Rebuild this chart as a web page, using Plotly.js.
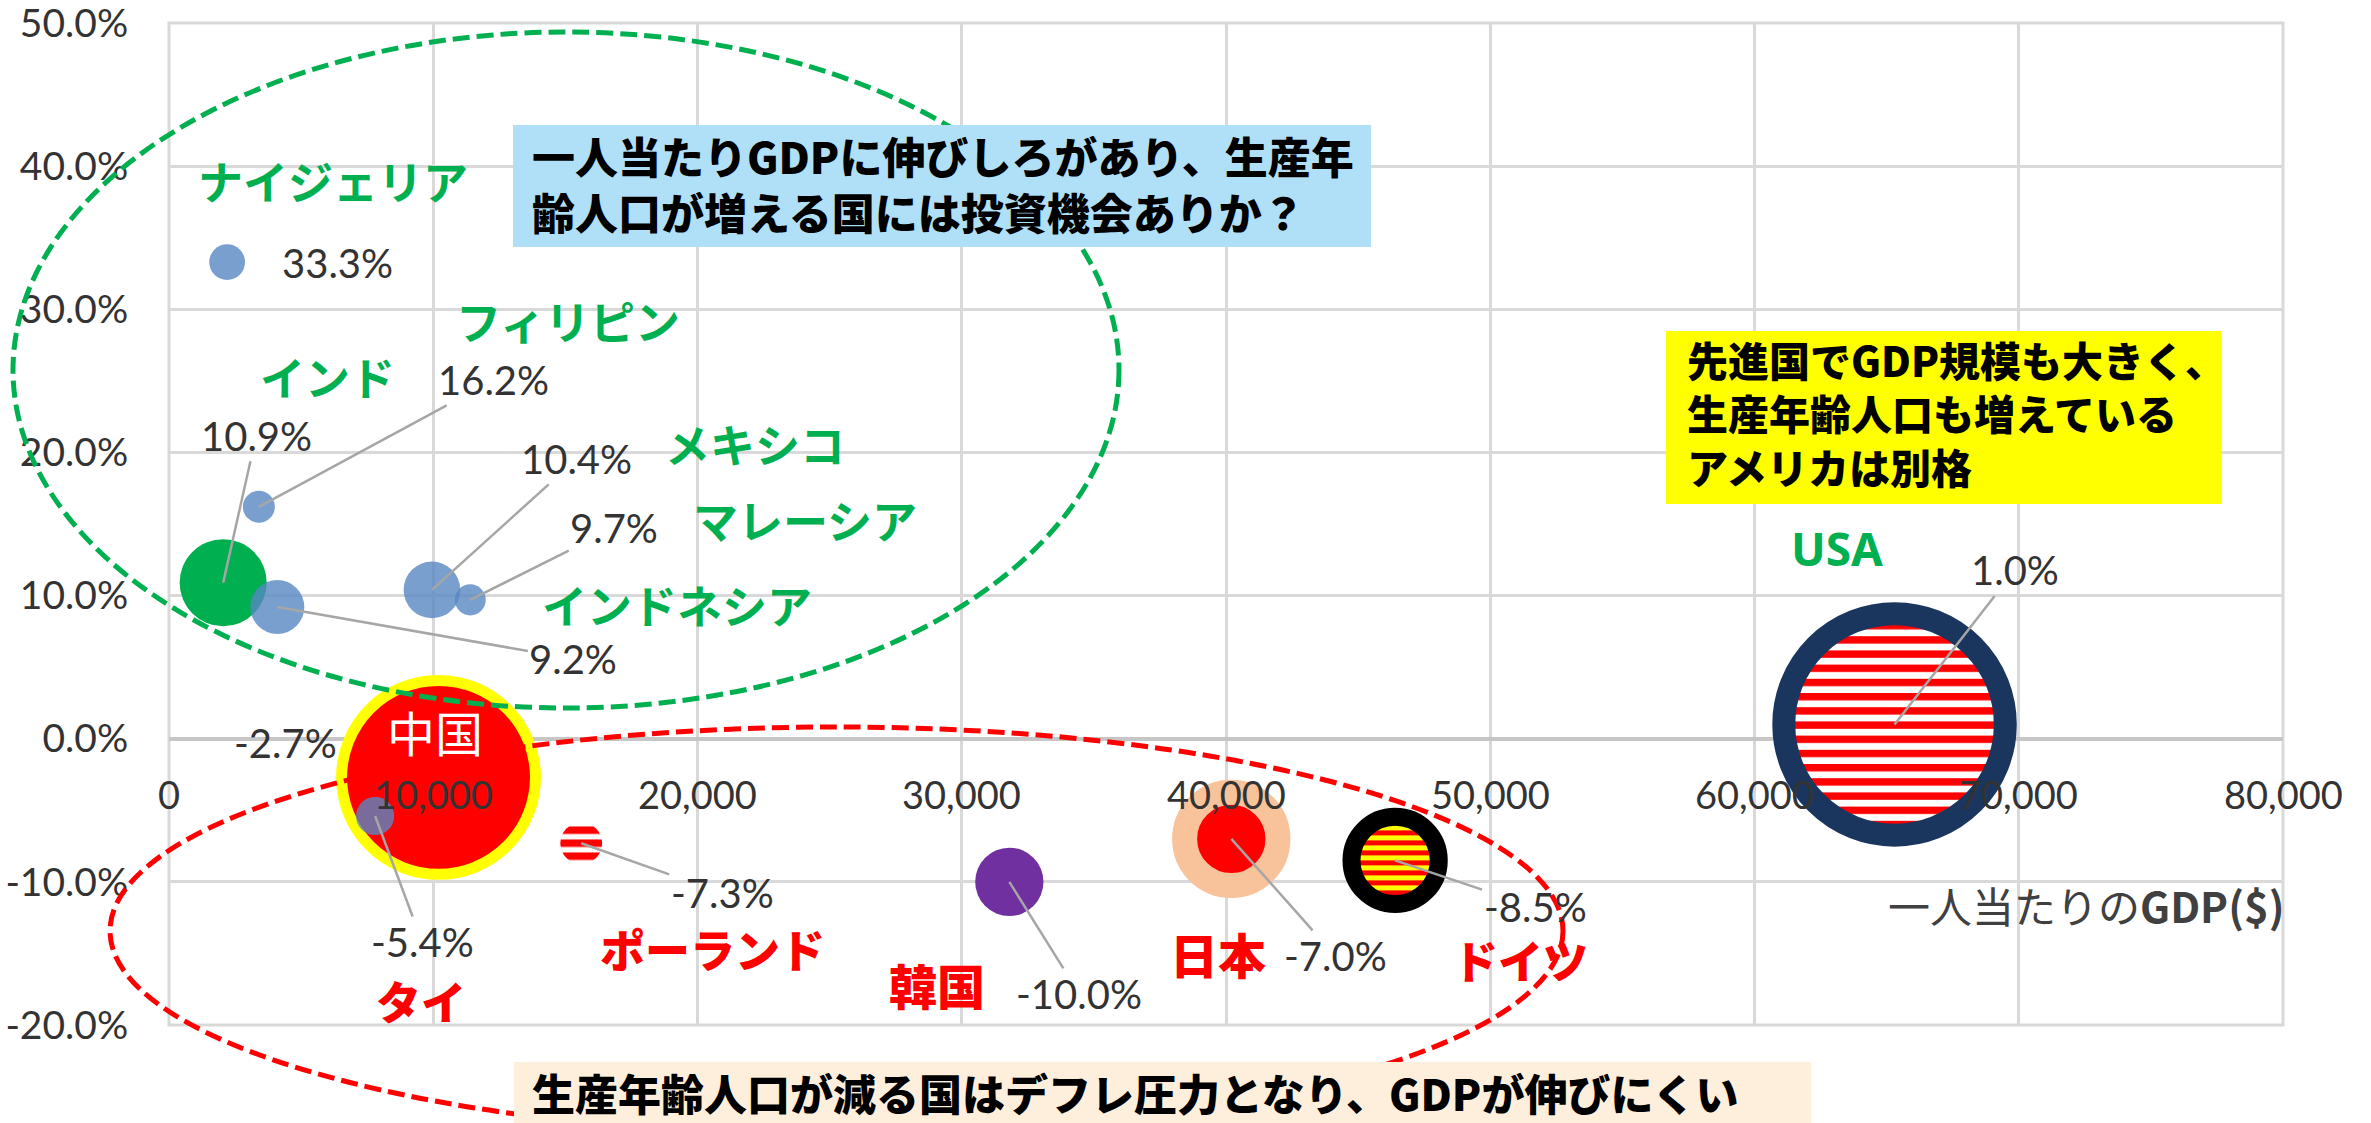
<!DOCTYPE html>
<html>
<head>
<meta charset="utf-8">
<script src="https://cdn.plot.ly/plotly-3.0.1.min.js"></script>
<style>
html,body{margin:0;padding:0;background:#ffffff;}
#chart{width:2371px;height:1123px;}
</style>
</head>
<body>
<div id="chart"></div>
<script>
// ---------------- data ----------------
const countries = ['ナイジェリア','フィリピン','インド','インドネシア','メキシコ','マレーシア','中国','タイ','ポーランド','韓国','日本','ドイツ','USA'];
const gdpPerCapita = [2200, 3400, 2050, 4100, 9950, 11400, 10200, 7800, 15600, 31800, 40200, 46400, 65300];
const workingAgePopChangePct = [33.3, 16.2, 10.9, 9.2, 10.4, 9.7, -2.7, -5.4, -7.3, -10.0, -7.0, -8.5, 1.0];
const gdpTrillionUSD = [0.44, 0.35, 2.6, 1.0, 1.1, 0.33, 14.4, 0.5, 0.6, 1.6, 4.8, 3.8, 20.5];

const xTickVals = [0, 10000, 20000, 30000, 40000, 50000, 60000, 70000, 80000];
const xTickText = ['0', '10,000', '20,000', '30,000', '40,000', '50,000', '60,000', '70,000', '80,000'];
const yTickVals = [-20, -10, 0, 10, 20, 30, 40, 50];
const yTickText = ['-20.0%', '-10.0%', '0.0%', '10.0%', '20.0%', '30.0%', '40.0%', '50.0%'];

const xAxisTitle = '一人当たりの<b>GDP($)</b>';
const noteGrowth = ['一人当たりGDPに伸びしろがあり、生産年', '齢人口が増える国には投資機会ありか？'];
const noteUSA = ['先進国でGDP規模も大きく、', '生産年齢人口も増えている', 'アメリカは別格'];
const noteDecline = ['生産年齢人口が減る国はデフレ圧力となり、GDPが伸びにくい'];

// ---------------- styles / layout constants ----------------
const W = 2371, H = 1123, ML = 169, MR = 88, MT = 23, MB = 98;
const PW = W - ML - MR, PH = H - MT - MB;
const px = v => (v - ML) / PW;
const py = v => (H - MB - v) / PH;

const BLUE = 'rgba(88,135,195,0.8)';
const GREEN = '#00B050';
const RED = '#FF0000';
const NUMFONT = 'Lato, "Noto Sans", sans-serif';
const JPFONT = '"Noto Sans CJK JP", "Noto Sans", sans-serif';
const K = 54; // px per sqrt(trillion)
const NONE = 'rgba(0,0,0,0)';
const TICKCOLOR = '#333333';

// per-country visual style: fill, ring color, ring width, pattern id, label colour
const style = [
  {fill: BLUE, ring: NONE, rw: 0, pat: null, lc: GREEN},
  {fill: BLUE, ring: NONE, rw: 0, pat: null, lc: GREEN},
  {fill: GREEN, ring: NONE, rw: 0, pat: null, lc: GREEN},
  {fill: BLUE, ring: NONE, rw: 0, pat: null, lc: GREEN},
  {fill: BLUE, ring: NONE, rw: 0, pat: null, lc: GREEN},
  {fill: BLUE, ring: NONE, rw: 0, pat: null, lc: GREEN},
  {fill: RED, ring: '#FFFF00', rw: 11, pat: null, lc: '#FFFFFF'},
  {fill: BLUE, ring: NONE, rw: 0, pat: null, lc: RED},
  {fill: RED, ring: NONE, rw: 0, pat: 'patPL', lc: RED},
  {fill: '#7030A0', ring: NONE, rw: 0, pat: null, lc: RED},
  {fill: RED, ring: '#F8C29B', rw: 25, pat: null, lc: RED},
  {fill: RED, ring: '#000000', rw: 18, pat: 'patDE', lc: RED},
  {fill: RED, ring: '#1B365E', rw: 23, pat: 'patUS', lc: GREEN}
];
// name label offsets [dx, dy] in px from bubble centre (dy downward)
const nameOff = [[106,-82],[309,-186],[104,-206],[400,-3],[323,-146],[335,-80],[-4,-46],[46,184],[131,105],[-72,102],[-13,114],[125,99],[-58,-176]];
// value label offsets [ax, ay, leaderLine]
const valOff = [[110,1,false],[235,-127,true],[33,-147,true],[296,52,true],[145,-131,true],[144,-72,true],[-153,-34,false],[47,126,true],[141,50,true],[70,112,true],[104,117,true],[140,47,true],[120,-154,true]];

const sizes = gdpTrillionUSD.map((g, i) => K * Math.sqrt(g) - style[i].rw);

const trace = {
  type: 'scatter',
  mode: 'markers',
  x: gdpPerCapita,
  y: workingAgePopChangePct,
  text: countries,
  hoverinfo: 'text',
  cliponaxis: true,
  marker: {
    size: sizes,
    sizemode: 'diameter',
    sizeref: 1,
    opacity: 1,
    color: style.map(s => s.fill),
    line: {color: style.map(s => s.ring), width: style.map(s => s.rw)}
  },
  showlegend: false
};

const annotations = [];
// x-axis tick labels: Excel draws them where the axis crosses y = 0, above the bubbles
xTickVals.forEach((v, i) => annotations.push({
  x: v, y: 0, xref: 'x', yref: 'y', text: xTickText[i], showarrow: false,
  xanchor: 'center', yanchor: 'middle', yshift: -55,
  font: {family: NUMFONT, size: 38, color: TICKCOLOR}
}));
countries.forEach((c, i) => {
  const v = workingAgePopChangePct[i];
  const o = valOff[i];
  const a = {
    x: gdpPerCapita[i], y: v, xref: 'x', yref: 'y',
    text: v.toFixed(1) + '%',
    font: {family: NUMFONT, size: 40, color: '#333333'}
  };
  if (o[2]) {
    Object.assign(a, {showarrow: true, ax: o[0], ay: o[1], axref: 'pixel', ayref: 'pixel', arrowhead: 0, arrowwidth: 2.5, arrowcolor: '#A6A6A6', standoff: 0, startstandoff: 0});
  } else {
    Object.assign(a, {showarrow: false, xshift: o[0], yshift: -o[1]});
  }
  annotations.push(a);
});
countries.forEach((c, i) => {
  const o = nameOff[i];
  const latin = /^[A-Za-z]+$/.test(c);
  const kanji = (c === '中国' || c === '韓国' || c === '日本');
  const isRed = style[i].lc === RED;
  const isWhite = style[i].lc === '#FFFFFF';
  annotations.push({
    x: gdpPerCapita[i], y: workingAgePopChangePct[i], xref: 'x', yref: 'y',
    text: c, showarrow: false, xshift: o[0], yshift: -o[1],
    font: {family: latin ? '"Noto Sans", Lato, sans-serif' : JPFONT, size: latin ? 46 : (kanji ? 48 : 45), color: style[i].lc, weight: isWhite ? 'normal' : (isRed ? 900 : 'bold')}
  });
});
function note(lines, x, yc, size) {
  annotations.push({
    xref: 'paper', yref: 'paper', x: px(x), y: py(yc), xanchor: 'left', yanchor: 'middle', align: 'left',
    text: lines.join('<br>'), showarrow: false, font: {family: JPFONT, size: size, color: '#000000', weight: 900}
  });
}
note(noteGrowth, 530, 183, 43);
note(noteUSA, 1685, 412, 41);
note(noteDecline, 530, 1092, 43);
annotations.push({
  xref: 'paper', yref: 'paper', x: px(2086), y: py(904), xanchor: 'center', yanchor: 'middle',
  text: xAxisTitle, showarrow: false, font: {family: JPFONT, size: 42, color: '#404040'}
});

const shapes = [
  {type: 'rect', xref: 'paper', yref: 'paper', x0: 0, x1: 1, y0: 0, y1: 1, line: {color: '#D9D9D9', width: 3}, fillcolor: NONE, layer: 'below'},
  {type: 'circle', xref: 'paper', yref: 'paper', x0: px(13), x1: px(1119), y0: py(708), y1: py(32), line: {color: GREEN, width: 5, dash: '17px,7px'}, fillcolor: NONE, layer: 'above'},
  {type: 'circle', xref: 'paper', yref: 'paper', x0: px(110), x1: px(1563), y0: py(1135), y1: py(727), line: {color: RED, width: 5, dash: '17px,7px'}, fillcolor: NONE, layer: 'above'},
  {type: 'rect', xref: 'paper', yref: 'paper', x0: px(513), x1: px(1371), y0: py(247), y1: py(125), line: {width: 0}, fillcolor: '#B0E0F8', layer: 'above'},
  {type: 'rect', xref: 'paper', yref: 'paper', x0: px(1666), x1: px(2221), y0: py(504), y1: py(331), line: {width: 0}, fillcolor: '#FFFF00', layer: 'above'},
  {type: 'rect', xref: 'paper', yref: 'paper', x0: px(514), x1: px(1811), y0: py(1140), y1: py(1062), line: {width: 0}, fillcolor: '#FDEFDC', layer: 'above'}
];

const layout = {
  width: W, height: H,
  margin: {l: ML, r: MR, t: MT, b: MB, pad: 0},
  paper_bgcolor: '#FFFFFF', plot_bgcolor: '#FFFFFF',
  showlegend: false,
  xaxis: {
    range: [0, 80000], tickvals: xTickVals, ticktext: xTickText,
    showticklabels: false,
    showgrid: true, gridcolor: '#D9D9D9', gridwidth: 3,
    zeroline: false, showline: false, ticks: '',
    fixedrange: true
  },
  yaxis: {
    range: [-20, 50], tickvals: yTickVals, ticktext: yTickText,
    showgrid: true, gridcolor: '#D9D9D9', gridwidth: 3,
    zeroline: true, zerolinecolor: '#C6C6C6', zerolinewidth: 4,
    showline: false,
    ticks: 'outside', ticklen: 32, tickcolor: NONE,
    ticklabeloverflow: 'allow',
    tickfont: {family: NUMFONT, size: 39, color: TICKCOLOR},
    fixedrange: true
  },
  shapes: shapes,
  annotations: annotations
};

const gd = document.getElementById('chart');
Plotly.newPlot(gd, [trace], layout, {displayModeBar: false, staticPlot: true}).then(function (g) {
  const NS = 'http://www.w3.org/2000/svg';
  const svg = g.querySelector('svg.main-svg');
  let defs = svg.querySelector('defs');
  if (!defs) { defs = document.createElementNS(NS, 'defs'); svg.insertBefore(defs, svg.firstChild); }
  function addPattern(id, period, bg, fg, fgH, offset) {
    const p = document.createElementNS(NS, 'pattern');
    p.setAttribute('id', id);
    p.setAttribute('patternUnits', 'userSpaceOnUse');
    p.setAttribute('width', 20);
    p.setAttribute('height', period);
    p.setAttribute('y', offset);
    const r0 = document.createElementNS(NS, 'rect');
    r0.setAttribute('width', 20); r0.setAttribute('height', period); r0.setAttribute('fill', bg);
    const r1 = document.createElementNS(NS, 'rect');
    r1.setAttribute('width', 20); r1.setAttribute('height', fgH); r1.setAttribute('fill', fg);
    p.appendChild(r0); p.appendChild(r1);
    defs.appendChild(p);
  }
  addPattern('patUS', 14.2, '#FFFFFF', '#FF0000', 7.4, -3);
  addPattern('patDE', 10, '#FFFF00', '#FF0000', 5, 0);
  addPattern('patPL', 13, '#FFFFFF', '#FF0000', 7.5, -3.75);
  const pts = g.querySelectorAll('.scatterlayer .trace path.point');
  style.forEach((s, i) => {
    if (s.pat && pts[i]) { pts[i].style.fill = 'url(#' + s.pat + ')'; pts[i].style.fillOpacity = 1; }
  });
});
</script>
</body>
</html>
